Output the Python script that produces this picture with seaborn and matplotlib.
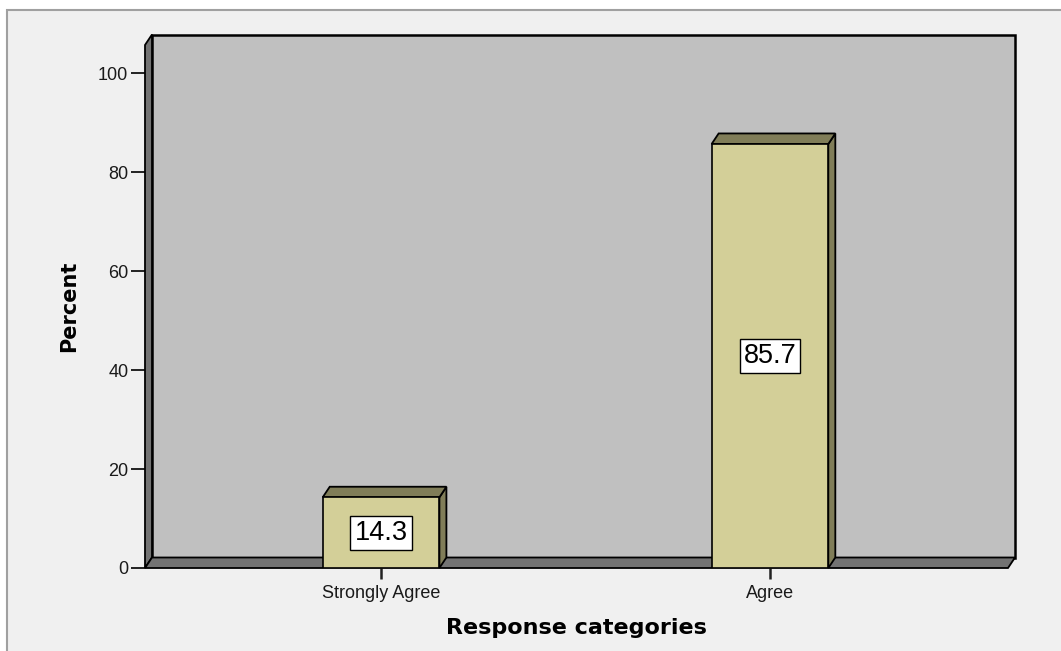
import matplotlib
matplotlib.use("Agg")
import matplotlib.pyplot as plt
import seaborn as sns
import pandas as pd
from matplotlib.patches import Polygon, Rectangle

# ---- data ----
categories = ["Strongly Agree", "Agree"]
percent = [14.3, 85.7]
yticks = [0, 20, 40, 60, 80, 100]
xlabel = "Response categories"
ylabel = "Percent"

sns.set_style("white")
plt.rcParams['font.family'] = ['Liberation Sans', 'DejaVu Sans']

W, H = 1061, 651
fig = plt.figure(figsize=(W / 100, H / 100), dpi=100, facecolor='white')
# outer frame
fig.patches.append(Rectangle((7 / W, -0.05), 1.1, (H - 10) / H + 0.05,
                             transform=fig.transFigure, facecolor='#f0f0f0',
                             edgecolor='#a0a0a0', lw=1.5, zorder=-5))

ax = fig.add_axes([145 / W, 83 / H, 863 / W, 523 / H])
ax.set_facecolor('none')

df = pd.DataFrame({'cat': categories, 'pct': percent})
sns.barplot(data=df, x='cat', y='pct', color='#d3cf98', saturation=1,
            width=0.30, edgecolor='black', linewidth=1.2, ax=ax)

ax.set_xlim(-0.607, 1.612)
ax.set_ylim(0, 105.7)
for s in ax.spines.values():
    s.set_visible(False)
ax.set_yticks(yticks)
ax.tick_params(axis='y', left=True, direction='out', length=10, width=1.4, color='#222222',
               labelsize=13, labelcolor='#1a1a1a', pad=2)
ax.tick_params(axis='x', bottom=True, direction='out', length=8, width=1.8, color='#222222',
               labelsize=13, labelcolor='#1a1a1a', pad=4)
ax.set_xlabel(xlabel, fontsize=16, fontweight='bold', family='DejaVu Sans',
              color='black', labelpad=12)
ax.set_ylabel(ylabel, fontsize=15, fontweight='bold', family='DejaVu Sans',
              color='black', labelpad=14)

DX, DY = 7.0, 10.5  # depth offset in pixels
inv = fig.transFigure.inverted()


def poly(points, trans, back_idx, fc, z, lw=1.3):
    """points in `trans` coords; indices in back_idx get the depth offset."""
    disp = trans.transform(points)
    for i in back_idx:
        disp[i, 0] += DX
        disp[i, 1] += DY
    p = Polygon(inv.transform(disp), closed=True, transform=fig.transFigure,
                facecolor=fc, edgecolor='black', lw=lw, zorder=z, clip_on=False,
                joinstyle='miter')
    ax.add_artist(p)


wall = '#737373'
# back wall
poly([(0, 0), (1, 0), (1, 1), (0, 1)], ax.transAxes, [0, 1, 2, 3], '#c0c0c0', 0.5, lw=1.8)
# left wall
poly([(0, 0), (0, 0), (0, 1), (0, 1)], ax.transAxes, [1, 2], wall, 0.6)
# floor
poly([(0, 0), (1, 0), (1, 0), (0, 0)], ax.transAxes, [2, 3], wall, 0.7)

top_col = '#807d58'
for bar, v in zip(ax.patches[:len(percent)], percent):
    bar.set_zorder(2)
    x0 = bar.get_x()
    x1 = x0 + bar.get_width()
    h = bar.get_height()
    # side face
    poly([(x1, 0), (x1, h), (x1, h), (x1, 0)], ax.transData, [2, 3], top_col, 1.5)
    # top face
    poly([(x0, h), (x1, h), (x1, h), (x0, h)], ax.transData, [2, 3], top_col, 1.5)
    ax.text((x0 + x1) / 2, h / 2, f"{v:.1f}", ha='center', va='center',
            fontsize=19.5, color='black', zorder=5,
            bbox=dict(boxstyle='square,pad=0.15', fc='white', ec='black', lw=1.0))

fig.savefig('out.png', dpi=100, facecolor=fig.get_facecolor())
